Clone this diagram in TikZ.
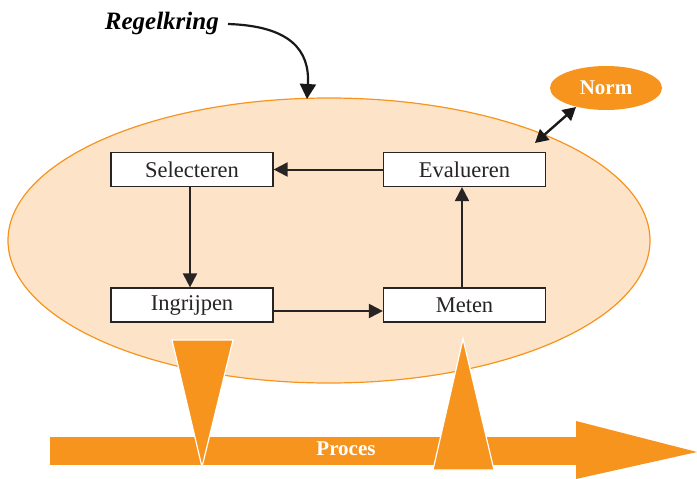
\documentclass[tikz,border=0pt]{standalone}
\usepackage{fontspec}
\setmainfont{Liberation Serif}
\usetikzlibrary{arrows.meta,shapes.geometric}
\definecolor{procorange}{RGB}{247,148,30}
\definecolor{loopfill}{RGB}{253,228,200}
\definecolor{boxline}{RGB}{40,36,36}
\tikzset{
  stepbox/.style={draw=boxline, line width=1.2pt, fill=white, minimum width=162pt, minimum height=34pt, inner sep=0pt, font=\fontsize{22.5}{24}\selectfont, text=boxline},
  flow/.style={draw=boxline, line width=2pt, -{Triangle[length=14pt,width=14pt]}},
  marker/.style={fill=procorange, draw=white, line width=1.2pt, line join=miter},
}
\begin{document}
\begin{tikzpicture}[x=1pt,y=-1pt]
\useasboundingbox (0,0) rectangle (697,479);

% control loop area
\node (loop) [ellipse, draw=procorange, line width=1.2pt, fill=loopfill, minimum width=642pt, minimum height=285pt, inner sep=0pt] at (329,240.5) {};

% process bar with arrowhead
\fill[procorange] (50,437) rectangle (577,465);
\fill[procorange] (576,421) -- (697,452) -- (576,479) -- cycle;
\node (proces) at (346,449) {\fontsize{21}{23}\selectfont\bfseries\color{white}Proces};

% intervention and measurement markers
\draw[marker] (172,340) -- (233,340) -- (202,467) -- cycle;
\draw[marker] (463,339) -- (494,470) -- (433,470) -- cycle;

% steps of the loop
\node (sel) [stepbox] at (192,169.5) {Selecteren};
\node (eval) [stepbox] at (464.5,169.5) {Evalueren};
\node (ingr) [stepbox] at (192,305) {Ingrijpen};
\node (meet) [stepbox] at (464.5,305) {Meten};

\draw[flow] (eval.west) -- (sel.east);
\draw[flow] (sel.south -| 190,0) -- (ingr.north -| 190,0);
\draw[flow] (ingr.east |- 0,311) -- (meet.west |- 0,311);
\draw[flow] (meet.north -| 462,0) -- (eval.south -| 462,0);

% norm
\node (norm) [ellipse, fill=procorange, minimum width=112pt, minimum height=44pt, inner sep=0pt] at (606,88) {\fontsize{21}{23}\selectfont\bfseries\color{white}Norm};
\coordinate (normend) at (535,143);
\draw[draw=black!90, line width=2.4pt, {Triangle[length=13pt,width=14pt]}-{Triangle[length=13pt,width=14pt]}] (normend) -- (576,107);

% label of the loop
\node (label) [anchor=east, inner sep=0pt] at (219,23) {\fontsize{25}{27}\selectfont\bfseries\itshape Regelkring};
\coordinate (labeltip) at (307,99);
\draw[draw=black!90, line width=2.2pt, -{Triangle[length=15pt,width=16pt]}] (228,24) .. controls (290,26) and (310,50) .. (labeltip);
\end{tikzpicture}
\end{document}
